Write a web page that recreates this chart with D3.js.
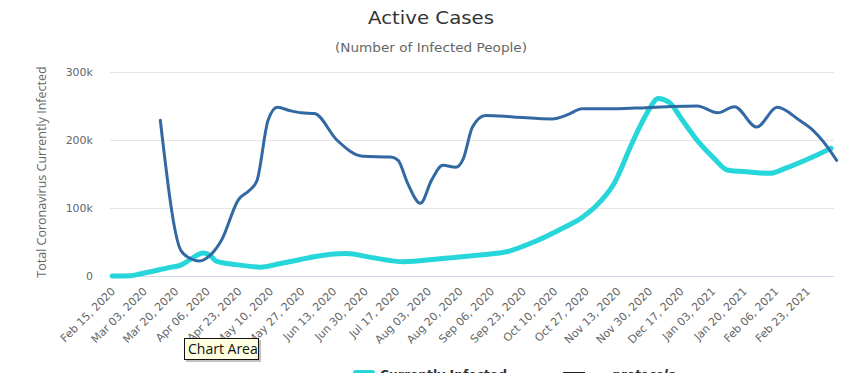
<!DOCTYPE html>
<html>
<head>
<meta charset="utf-8">
<script src="https://cdn.jsdelivr.net/npm/d3@7"></script>
<style>
  html, body { margin: 0; padding: 0; background: #fff; overflow: hidden; }
  svg { display: block; font-family: "DejaVu Sans", "Open Sans", sans-serif; }
</style>
</head>
<body>
<svg id="chart" width="849" height="373"></svg>
<script>
// active cases chart

const infectedDates = ["2020-02-15", "2020-02-25", "2020-03-01", "2020-03-08", "2020-03-16", "2020-03-23",
    "2020-03-28", "2020-04-04", "2020-04-08", "2020-04-11", "2020-04-24", "2020-05-05", "2020-05-15",
    "2020-05-26", "2020-06-02", "2020-06-20", "2020-07-04", "2020-07-21", "2020-08-08", "2020-08-31",
    "2020-09-15", "2020-09-29", "2020-10-15", "2020-10-25", "2020-11-04", "2020-11-11", "2020-11-21",
    "2020-11-29", "2020-12-05", "2020-12-11", "2020-12-18", "2020-12-27", "2021-01-04", "2021-01-11",
    "2021-01-23", "2021-02-03", "2021-02-12", "2021-02-26", "2021-03-08"];
const infectedValues = [0, 500, 3000, 7000, 12000, 16000,
    24000, 34000, 30000, 22000, 16000, 13000, 18000,
    24000, 28000, 33000, 27000, 21000, 25000, 31000,
    36000, 50000, 71000, 86000, 110000, 135000, 196000,
    240000, 261000, 255000, 229000, 196000, 173000, 156000,
    153000, 151000, 159000, 175000, 188000];

const protocolDates = ["2020-03-12", "2020-03-23", "2020-03-28", "2020-04-02", "2020-04-08", "2020-04-14",
    "2020-04-23", "2020-04-29", "2020-05-03", "2020-05-09", "2020-05-14", "2020-05-21", "2020-05-27",
    "2020-06-03", "2020-06-15", "2020-06-29", "2020-07-14", "2020-07-18", "2020-07-23", "2020-07-30",
    "2020-08-05", "2020-08-11", "2020-08-18", "2020-08-22", "2020-08-27", "2020-09-03", "2020-09-18",
    "2020-10-09", "2020-10-17", "2020-10-25", "2020-11-11", "2020-11-23", "2020-12-10", "2020-12-26",
    "2021-01-06", "2021-01-15", "2021-01-27", "2021-02-07", "2021-02-19", "2021-02-26", "2021-03-06",
    "2021-03-11"];
const protocolValues = [229000, 38000, 26000, 22000, 31000, 53000,
    112000, 126000, 140000, 229000, 248000, 243000, 240000,
    239000, 200000, 176000, 175000, 170000, 137000, 107000,
    141000, 163000, 160000, 172000, 219000, 236000, 234000,
    231000, 237000, 246000, 246000, 247000, 249000, 250000,
    240000, 249000, 219000, 248000, 229000, 215000, 190000,
    170000];

const yTicks = [0, 100000, 200000, 300000];
const seriesNames = ["Currently Infected", "protocols"];
const seriesColors = ["#27d6da", "#3369a2"];

const svg = d3.select("#chart");
const parse = d3.timeParse("%Y-%m-%d");
const plotLeft = 110, plotRight = 834, plotTop = 72, plotBottom = 276;

const x = d3.scaleTime()
    .domain([parse("2020-02-15"), parse("2021-03-12")])
    .range([112, 838.5]);
const y = d3.scaleLinear().domain([0, 300000]).range([plotBottom, plotTop]);

// titles
svg.append("text").attr("x", 431).attr("y", 24).attr("text-anchor", "middle")
    .attr("textLength", 126).attr("lengthAdjust", "spacingAndGlyphs")
    .style("font-size", "18px").style("fill", "#333").text("Active Cases");
svg.append("text").attr("x", 431).attr("y", 52).attr("text-anchor", "middle")
    .attr("textLength", 192).attr("lengthAdjust", "spacingAndGlyphs")
    .style("font-size", "12px").style("fill", "#666").text("(Number of Infected People)");

// grid + y labels
svg.append("g").selectAll("line").data(yTicks.slice(1)).enter().append("line")
    .attr("x1", plotLeft).attr("x2", plotRight)
    .attr("y1", d => y(d) + 0.5).attr("y2", d => y(d) + 0.5)
    .attr("stroke", "#e6e6e6");
svg.append("line").attr("x1", plotLeft).attr("x2", plotRight)
    .attr("y1", plotBottom + 0.5).attr("y2", plotBottom + 0.5).attr("stroke", "#ccd6eb");

svg.append("g").selectAll("text").data(yTicks).enter().append("text")
    .attr("x", 93).attr("y", d => y(d) + 4).attr("text-anchor", "end")
    .style("font-size", "11px").style("fill", "#666")
    .text(d => d === 0 ? "0" : d3.format("d")(d / 1000) + "k");

svg.append("text")
    .attr("transform", `translate(46, ${(plotTop + plotBottom) / 2 - 2}) rotate(-90)`)
    .attr("text-anchor", "middle")
    .style("font-family", "'Open Sans', sans-serif")
    .style("font-size", "12.5px").style("fill", "#666")
    .text("Total Coronavirus Currently Infected");

// x labels every 17 days
const xTicks = d3.timeDay.range(parse("2020-02-15"), parse("2021-03-01"), 1)
    .filter((d, i) => i % 17 === 0);
const fmt = d3.timeFormat("%b %d, %Y");
svg.append("g").selectAll("text").data(xTicks).enter().append("text")
    .attr("transform", d => `translate(${x(d) + 4}, 292) rotate(-45)`)
    .attr("text-anchor", "end")
    .style("font-size", "11px").style("fill", "#666")
    .text(d => fmt(d));

// lines
const line = d3.line().curve(d3.curveMonotoneX).x(d => x(d[0])).y(d => y(d[1]));
const infected = infectedDates.map((d, i) => [parse(d), infectedValues[i]]);
const protocols = protocolDates.map((d, i) => [parse(d), protocolValues[i]]);

svg.append("path").datum(infected).attr("d", line)
    .attr("fill", "none").attr("stroke", seriesColors[0]).attr("stroke-width", 5)
    .attr("stroke-linejoin", "round").attr("stroke-linecap", "round");
svg.append("path").datum(protocols).attr("d", line)
    .attr("fill", "none").attr("stroke", seriesColors[1]).attr("stroke-width", 3)
    .attr("stroke-linejoin", "round").attr("stroke-linecap", "round");

// legend (cut off at bottom, as in the source)
const legend = svg.append("g");
legend.append("line").attr("x1", 356).attr("x2", 372).attr("y1", 373).attr("y2", 373)
    .attr("stroke", seriesColors[0]).attr("stroke-width", 6).attr("stroke-linecap", "round");
legend.append("text").attr("x", 380).attr("y", 379)
    .attr("textLength", 127).attr("lengthAdjust", "spacingAndGlyphs")
    .style("font-size", "13px").style("font-weight", "bold").style("fill", "#333").text(seriesNames[0]);
legend.append("line").attr("x1", 563).attr("x2", 585).attr("y1", 373).attr("y2", 373)
    .attr("stroke", "#222").attr("stroke-width", 2);
legend.append("text").attr("x", 612).attr("y", 379)
    .attr("textLength", 63).attr("lengthAdjust", "spacingAndGlyphs")
    .style("font-size", "13px").style("font-weight", "bold").style("font-style", "italic")
    .style("fill", "#333").text(seriesNames[1]);

// tooltip box
const tip = svg.append("g").attr("transform", "translate(184, 338)");
tip.append("rect").attr("x", 2).attr("y", 2).attr("width", 75).attr("height", 22).attr("fill", "#9a9a9a").attr("opacity", 0.6);
tip.append("rect").attr("x", 0.5).attr("y", 0.5).attr("width", 74).attr("height", 21)
    .attr("fill", "#ffffe1").attr("stroke", "#111");
tip.append("text").attr("x", 4).attr("y", 16)
    .style("font-family", "'Open Sans', sans-serif")
    .style("font-size", "14px").style("fill", "#111").text("Chart Area");
</script>
</body>
</html>
